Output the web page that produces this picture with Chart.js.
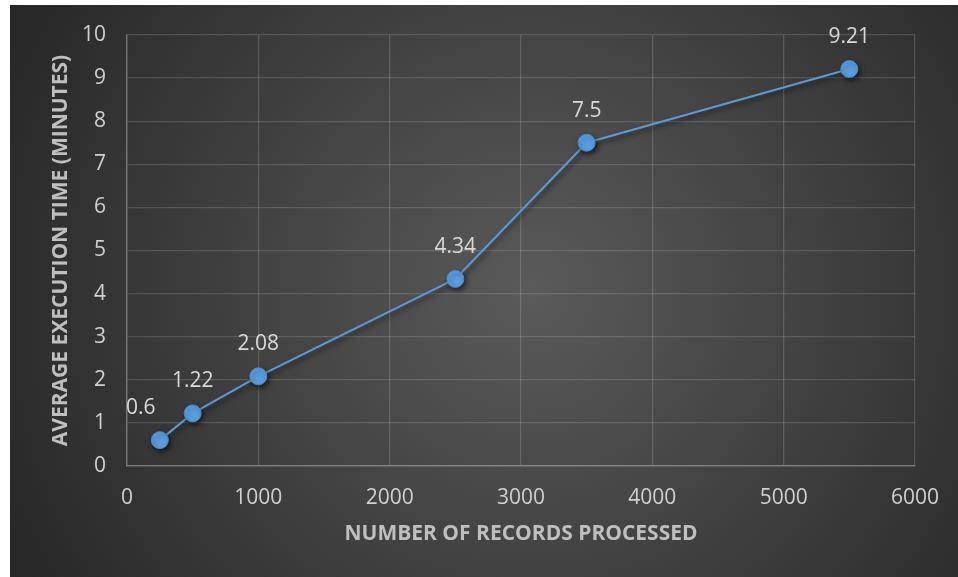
<!DOCTYPE html>
<html>
<head>
<meta charset="utf-8">
<title>Average Execution Time</title>
<script src="https://cdn.jsdelivr.net/npm/chart.js@4.4.1/dist/chart.umd.min.js"></script>
<style>
    html, body { margin: 0; padding: 0; background: #ffffff; }
    #wrap { width: 958px; height: 577px; position: relative; }
</style>
</head>
<body>
<div id="wrap"><canvas id="timeChart" width="958" height="577"></canvas></div>
<script>
// records processed vs. average run time
const recordCounts = [250, 500, 1000, 2500, 3500, 5500];
const avgMinutes = [0.6, 1.22, 2.08, 4.34, 7.5, 9.21];
const xTicks = [0, 1000, 2000, 3000, 4000, 5000, 6000];
const yTicks = [0, 1, 2, 3, 4, 5, 6, 7, 8, 9, 10];

const FONT = '"Open Sans", "Liberation Sans", sans-serif';
const gridColor = 'rgba(255,255,255,0.15)';

// dark card with a soft radial glow behind everything
const cardBackground = {
    id: 'cardBackground',
    beforeDraw(chart) {
        const ctx = chart.ctx;
        const x0 = 10, y0 = 5, w = chart.width - x0, h = chart.height - y0;
        const cx = x0 + w * 0.55, cy = y0 + h * 0.5;
        const g = ctx.createRadialGradient(cx, cy, 0, cx, cy, Math.hypot(w, h) * 0.55);
        g.addColorStop(0, '#5a5a5a');
        g.addColorStop(1, '#252525');
        ctx.save();
        ctx.fillStyle = g;
        ctx.fillRect(x0, y0, w, h);
        ctx.restore();
    }
};

// drop shadow under the line and markers
const markerShadow = {
    id: 'markerShadow',
    beforeDatasetsDraw(chart) {
        const ctx = chart.ctx;
        ctx.save();
        ctx.shadowColor = 'rgba(0,0,0,0.55)';
        ctx.shadowBlur = 5;
        ctx.shadowOffsetX = 2;
        ctx.shadowOffsetY = 3;
    },
    afterDatasetsDraw(chart) {
        chart.ctx.restore();
    }
};

// value labels above each point
const valueLabels = {
    id: 'valueLabels',
    afterDatasetsDraw(chart, args, opts) {
        const ctx = chart.ctx;
        const meta = chart.getDatasetMeta(0);
        ctx.save();
        ctx.font = '21px ' + FONT;
        ctx.fillStyle = '#d9d9d9';
        ctx.textAlign = 'center';
        ctx.textBaseline = 'middle';
        meta.data.forEach((pt, i) => {
            const dx = (opts.shift && opts.shift[i]) || 0;
            ctx.fillText(String(avgMinutes[i]), pt.x + dx, pt.y - 32);
        });
        ctx.restore();
    }
};

const ctx = document.getElementById('timeChart').getContext('2d');
new Chart(ctx, {
    type: 'line',
    data: {
        datasets: [{
            data: recordCounts.map((r, i) => ({ x: r, y: avgMinutes[i] })),
            borderColor: '#5b9bd5',
            borderWidth: 2,
            backgroundColor: '#5b9bd5',
            pointBackgroundColor: '#5a9ee0',
            pointBorderColor: '#4a8acb',
            pointBorderWidth: 1,
            pointRadius: 8.5,
            tension: 0,
            fill: false
        }]
    },
    options: {
        responsive: false,
        animation: false,
        layout: { padding: { left: 10, top: 35, right: 42, bottom: 0 } },
        plugins: {
            legend: { display: false },
            tooltip: { enabled: false },
            valueLabels: { shift: { 0: -19 } }
        },
        scales: {
            x: {
                type: 'linear',
                min: 0,
                max: 6000,
                afterBuildTicks: s => { s.ticks = xTicks.map(v => ({ value: v })); },
                afterFit: s => { s.height = 111; },
                ticks: {
                    color: '#d0d0d0',
                    font: { family: FONT, size: 21 },
                    padding: 19,
                    callback: v => String(v)
                },
                grid: { color: gridColor, lineWidth: 1.3, drawTicks: false },
                border: { color: 'rgba(255,255,255,0.22)', width: 1.5 },
                title: {
                    display: true,
                    text: 'NUMBER OF RECORDS PROCESSED',
                    color: '#bfbfbf',
                    font: { family: FONT, size: 21, weight: 'bold' },
                    padding: { top: 0, bottom: 30 }
                }
            },
            y: {
                min: 0,
                max: 10,
                afterBuildTicks: s => { s.ticks = yTicks.map(v => ({ value: v })); },
                afterFit: s => { s.width = 117; },
                ticks: {
                    color: '#d0d0d0',
                    font: { family: FONT, size: 21 },
                    padding: 21,
                    callback: v => String(v)
                },
                grid: { color: gridColor, lineWidth: 1.3, drawTicks: false },
                border: { color: 'rgba(255,255,255,0.22)', width: 1.5 },
                title: {
                    display: true,
                    text: 'AVERAGE EXECUTION TIME (MINUTES)',
                    color: '#bfbfbf',
                    font: { family: FONT, size: 21, weight: 'bold' },
                    padding: { top: 38, bottom: 0 }
                }
            }
        }
    },
    plugins: [cardBackground, markerShadow, valueLabels]
});
</script>
</body>
</html>
